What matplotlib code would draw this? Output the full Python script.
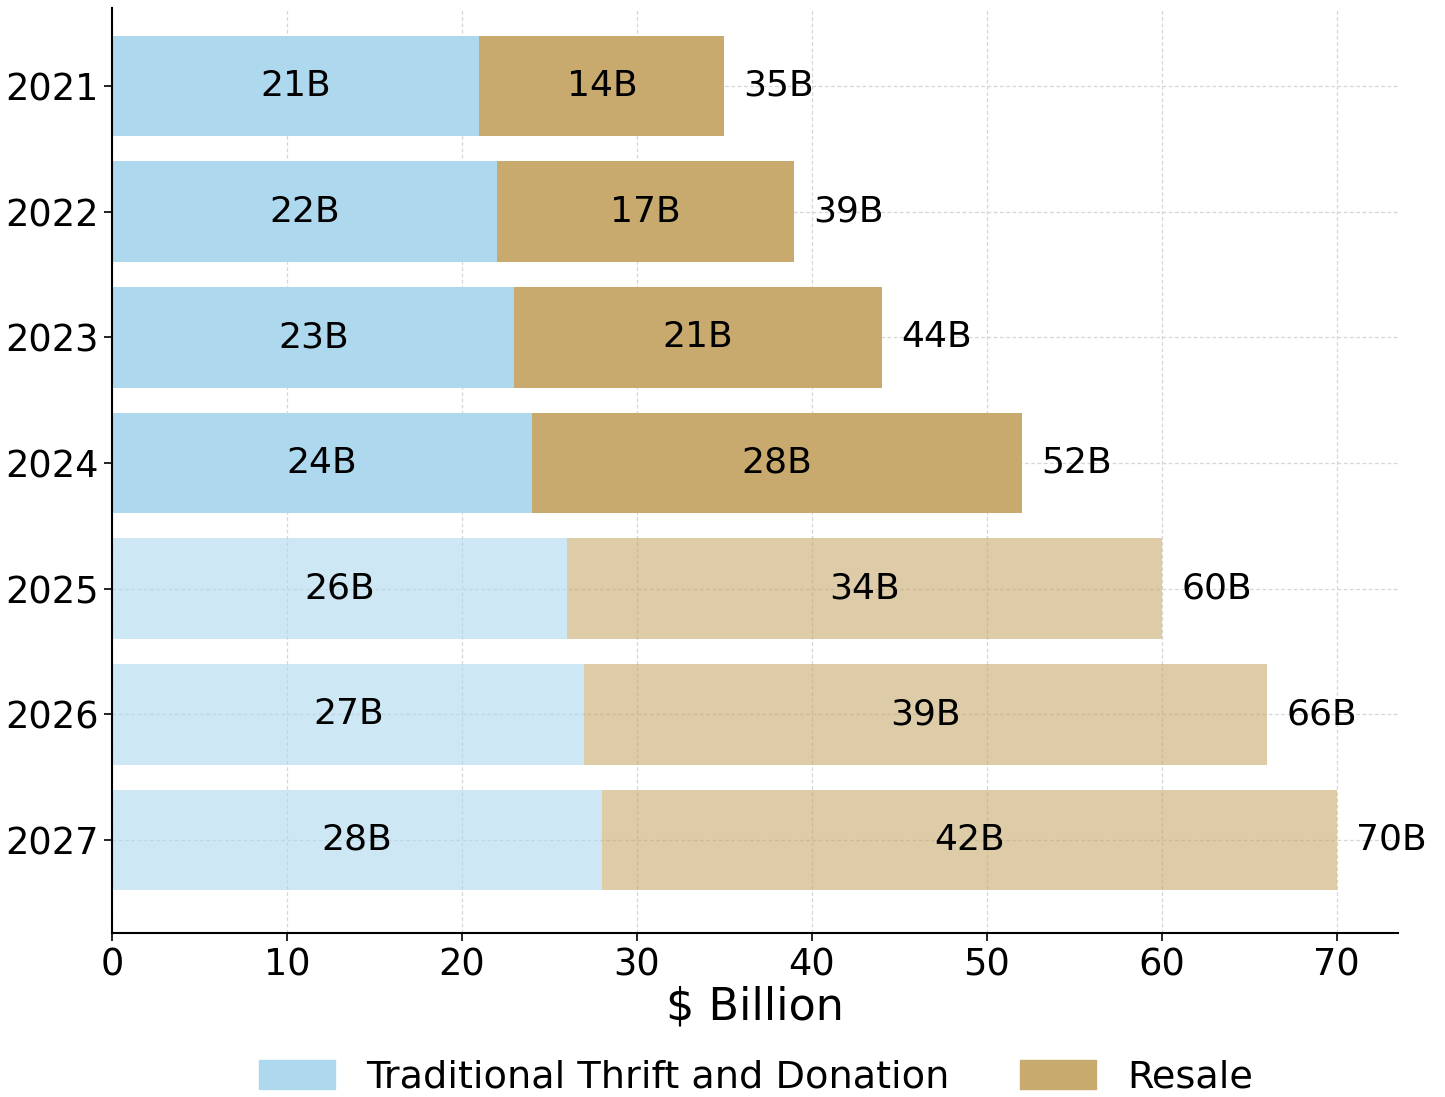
import numpy as np
import matplotlib
matplotlib.use("Agg")
import matplotlib.pyplot as plt
from matplotlib.patches import Patch

years = ["2021", "2022", "2023", "2024", "2025", "2026", "2027"]
traditional = [21, 22, 23, 24, 26, 27, 28]
resale = [14, 17, 21, 28, 34, 39, 42]
forecast = [False, False, False, False, True, True, True]

BLUE = "#ADD8EE"
TAN = "#C8A96E"

fig = plt.figure(figsize=(14.45, 10.97), dpi=100)
ax = fig.add_axes([0.0775, 0.1495, 0.89, 0.8432])

y = np.arange(len(years))
for i in range(len(years)):
    a = 0.6 if forecast[i] else 1.0
    ax.barh(y[i], traditional[i], height=0.8, color=BLUE, alpha=a, zorder=2)
    ax.barh(y[i], resale[i], left=traditional[i], height=0.8, color=TAN,
            alpha=a, zorder=2)
    ax.text(traditional[i] / 2, y[i], f"{traditional[i]}B", ha="center",
            va="center", fontsize=26, zorder=3)
    ax.text(traditional[i] + resale[i] / 2, y[i], f"{resale[i]}B",
            ha="center", va="center", fontsize=26, zorder=3)
    total = traditional[i] + resale[i]
    ax.text(total + 1.1, y[i], f"{total}B", ha="left", va="center",
            fontsize=26, zorder=3)

ax.set_yticks(y)
ax.set_yticklabels(years)
ax.set_ylim(6.74, -0.62)
ax.set_xlim(0, 73.5)
ax.set_xticks(np.arange(0, 80, 10))
ax.tick_params(labelsize=26.5, length=6, width=1.2)
ax.set_xlabel("$ Billion", fontsize=32, labelpad=2)

ax.grid(True, linestyle=(0, (3, 2)), color="#d6d6d6", linewidth=0.9, zorder=0)
ax.set_axisbelow(True)
ax.spines["top"].set_visible(False)
ax.spines["right"].set_visible(False)
ax.spines["left"].set_linewidth(1.5)
ax.spines["bottom"].set_linewidth(1.5)

handles = [Patch(color=BLUE), Patch(color=TAN)]
fig.legend(handles, ["Traditional Thrift and Donation", "Resale"],
           loc="lower center", bbox_to_anchor=(0.523, -0.03), ncol=2,
           frameon=False, fontsize=27.5, handlelength=2.0, handleheight=0.8,
           columnspacing=1.85)

fig.savefig("out.png", dpi=100, facecolor="white")
